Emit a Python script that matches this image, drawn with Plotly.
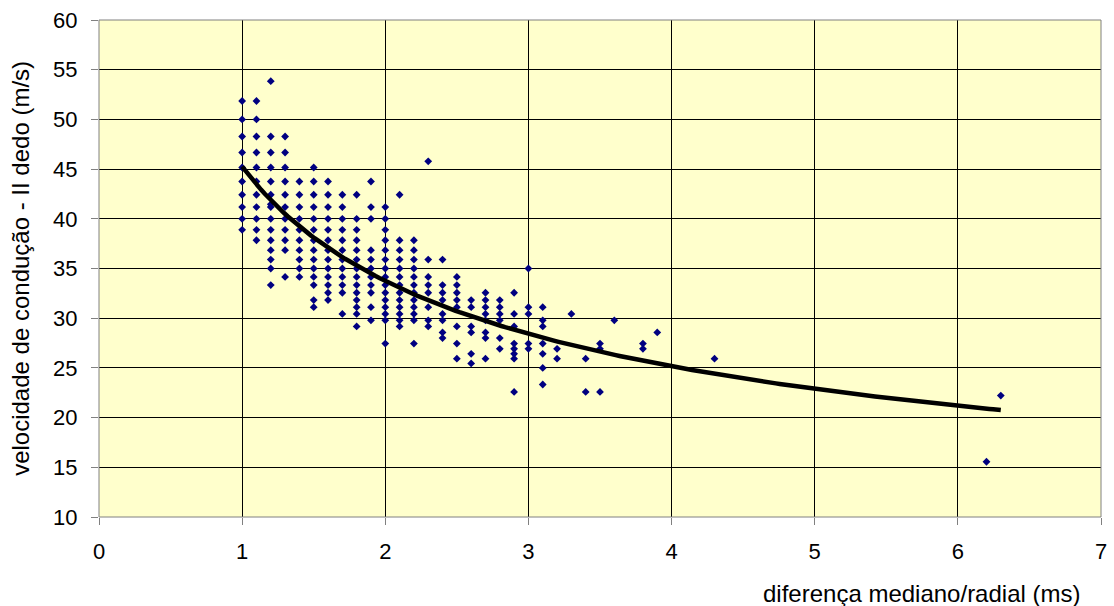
import numpy as np
import plotly.graph_objects as go

# ---- data ----
COLUMN_X = [1.0, 1.1, 1.2, 1.3, 1.4, 1.5, 1.6, 1.7, 1.8, 1.9, 2.0, 2.1, 2.2, 2.3, 2.4,
            2.5, 2.6, 2.7, 2.8, 2.9, 3.0, 3.1, 3.2, 3.3, 3.4, 3.5, 3.6, 3.8, 3.9, 4.3,
            6.2, 6.3]

COLUMN_VELOCITIES = [
    [51.85, 50.00, 48.28, 46.67, 45.16, 43.75, 42.42, 41.18, 40.00, 38.89],
    [51.85, 50.00, 48.28, 46.67, 45.16, 43.75, 42.42, 41.18, 40.00, 38.89, 37.84],
    [53.85, 48.28, 46.67, 45.16, 43.75, 42.42, 41.46, 41.18, 40.00, 38.89, 37.84, 36.84, 35.90, 35.00, 33.33],
    [48.28, 46.67, 45.16, 43.75, 42.42, 41.18, 40.00, 38.89, 37.84, 36.84, 34.15],
    [43.75, 42.42, 41.18, 40.00, 38.89, 37.84, 36.84, 35.90, 35.00, 34.15],
    [45.16, 43.75, 42.42, 41.18, 40.00, 38.89, 37.84, 36.84, 35.90, 35.00, 34.15, 33.33, 31.82, 31.11],
    [43.75, 42.42, 41.18, 40.00, 38.89, 37.84, 36.84, 35.90, 35.00, 34.15, 33.33, 32.56, 31.82],
    [42.42, 41.18, 40.00, 38.89, 37.84, 36.84, 35.90, 35.00, 34.15, 33.33, 32.56, 30.43],
    [42.42, 40.00, 38.89, 37.84, 36.84, 35.90, 35.00, 34.15, 33.33, 32.56, 31.82, 31.11, 30.43, 29.17],
    [43.75, 41.18, 40.00, 36.84, 35.90, 35.00, 34.15, 33.33, 32.56, 31.11, 29.79],
    [41.18, 40.00, 38.89, 37.84, 36.84, 35.90, 35.00, 34.15, 33.33, 32.56, 31.82, 31.11, 30.43, 29.79, 27.45],
    [42.42, 37.84, 36.84, 35.90, 35.00, 34.15, 33.33, 32.56, 31.82, 31.11, 30.43, 29.79, 29.17],
    [37.84, 36.84, 35.90, 35.00, 34.15, 33.33, 32.56, 31.82, 31.11, 30.43, 29.79, 27.45],
    [45.78, 35.90, 34.15, 33.33, 32.56, 31.11, 29.79, 29.17],
    [35.90, 33.33, 32.56, 31.82, 30.43, 29.79, 28.57, 28.00],
    [34.15, 33.33, 32.56, 31.82, 31.11, 29.17, 27.45, 25.93],
    [31.82, 31.11, 29.17, 28.57, 26.42, 25.45],
    [32.56, 31.82, 31.11, 30.43, 29.79, 28.57, 28.00, 25.93],
    [31.82, 31.11, 30.43, 29.79, 28.00, 26.92],
    [32.56, 30.43, 29.17, 27.45, 26.92, 26.42, 25.93, 22.58],
    [35.00, 31.11, 30.43, 27.45, 26.92],
    [31.11, 29.79, 29.17, 27.45, 26.42, 25.00, 23.33],
    [26.92, 25.93],
    [30.43],
    [25.93, 22.58],
    [27.45, 26.92, 22.58],
    [29.79],
    [27.45, 26.92],
    [28.57],
    [25.93],
    [15.56],
    [22.22],
]

X_TICKS = [0, 1, 2, 3, 4, 5, 6, 7]
Y_TICKS = [10, 15, 20, 25, 30, 35, 40, 45, 50, 55, 60]
X_TITLE = "diferença mediano/radial (ms)"
Y_TITLE = "velocidade de condução - II dedo (m/s)"

# flatten
xs, ys = [], []
for xv, col in zip(COLUMN_X, COLUMN_VELOCITIES):
    for v in col:
        xs.append(xv)
        ys.append(v)
xs = np.array(xs)
ys = np.array(ys)

# power trendline (least squares in log-log space, as a spreadsheet does)
b, ln_a = np.polyfit(np.log(xs), np.log(ys), 1)
a = np.exp(ln_a)
tx = np.linspace(xs.min(), xs.max(), 200)
ty = a * tx ** b

FONT = "Liberation Sans, Arial, sans-serif"

fig = go.Figure()
fig.add_trace(go.Scatter(
    x=xs, y=ys, mode="markers",
    marker=dict(symbol="diamond", size=6, color="#000080", line=dict(width=0)),
    showlegend=False, hoverinfo="skip",
))
fig.add_trace(go.Scatter(
    x=tx, y=ty, mode="lines",
    line=dict(color="#000000", width=4.5),
    showlegend=False, hoverinfo="skip",
))

axis_common = dict(
    showgrid=True, gridcolor="#000000", gridwidth=1,
    ticks="outside", ticklen=7, tickcolor="#808080", tickwidth=1,
    showline=False, zeroline=False,
    tickfont=dict(family=FONT, size=22, color="#000000"),
)

fig.update_layout(
    width=1114, height=606,
    margin=dict(l=99, r=7, t=20, b=89),
    paper_bgcolor="#FFFFFF",
    plot_bgcolor="#FFFFCC",
    xaxis=dict(range=[0, 7], tickvals=X_TICKS, ticklabelstandoff=8, **axis_common),
    yaxis=dict(range=[10, 60], tickvals=Y_TICKS, ticklabelstandoff=9, **axis_common),
    shapes=[dict(type="rect", xref="paper", yref="paper", x0=0, y0=0, x1=1, y1=1,
                 line=dict(color="#808080", width=1), fillcolor="rgba(0,0,0,0)", layer="above")],
    annotations=[
        dict(text=X_TITLE, xref="paper", yref="paper", x=0.981, y=-0.153,
             xanchor="right", yanchor="middle", showarrow=False,
             font=dict(family=FONT, size=24, color="#000000")),
        dict(text=Y_TITLE, xref="paper", yref="paper", x=-0.079, y=0.501,
             xanchor="center", yanchor="middle", textangle=-90, showarrow=False,
             font=dict(family=FONT, size=24, color="#000000")),
    ],
)

# remove the browser's default page margin so the figure sits at the window origin
fig.write_html(
    "out.html",
    config={"displayModeBar": False},
    post_script="document.body.style.margin='0';document.body.style.overflow='hidden';",
)
